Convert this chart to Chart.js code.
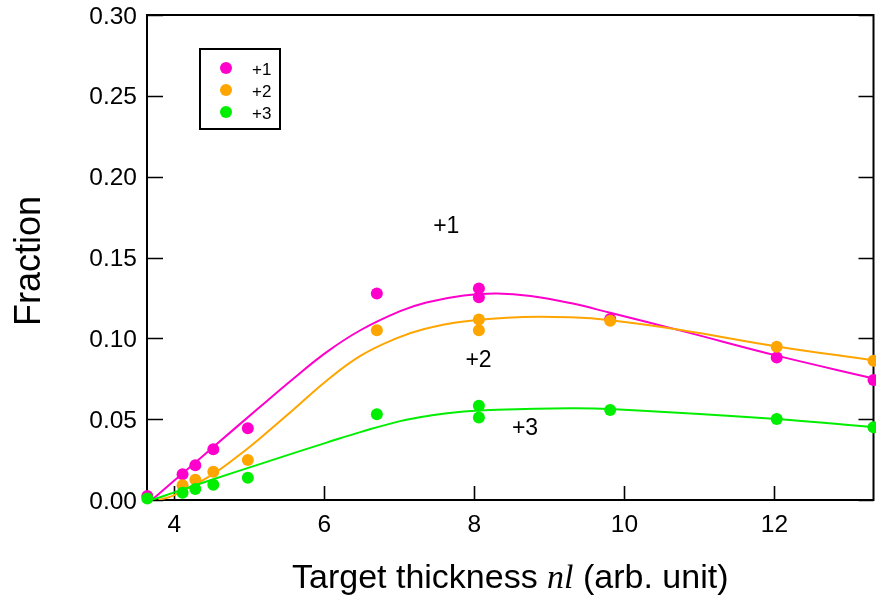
<!DOCTYPE html>
<html>
<head>
<meta charset="utf-8">
<script src="https://cdn.jsdelivr.net/npm/chart.js@4"></script>
<style>
  html, body { margin: 0; padding: 0; background: #fff; }
  #wrap { width: 876px; height: 597px; }
</style>
</head>
<body>
<div id="wrap"><canvas id="fractionChart" width="876" height="597"></canvas></div>
<script>
// measured charge-state fractions vs. target thickness
const thickness = [3.64, 4.11, 4.28, 4.52, 4.98, 6.70, 8.06, 8.06, 9.81, 12.03, 13.32];
const charge1 = [0.0025, 0.016, 0.0215, 0.0314, 0.0444, 0.1278, 0.1309, 0.1254, 0.112, 0.0882, 0.0742];
const charge2 = [null, 0.0092, 0.0126, 0.0175, 0.0247, 0.105, 0.1117, 0.105, 0.1109, 0.0948, 0.0861];
const charge3 = [0.001, 0.0045, 0.0068, 0.0095, 0.0138, 0.053, 0.0583, 0.0511, 0.0557, 0.0501, 0.045];

// fitted curves
const fit1X = [3.70, 4.0, 4.5, 5.14, 5.59, 6.03, 6.48, 7.01, 7.36, 7.86, 8.30, 8.75, 9.28, 9.81, 10.79, 12.03, 13.32];
const fit1Y = [0, 0.012, 0.032, 0.0575, 0.0752, 0.0915, 0.1050, 0.1168, 0.1222, 0.1265, 0.1277, 0.1262, 0.1218, 0.1158, 0.1043, 0.0893, 0.0752];
const fit2X = [3.79, 4.0, 4.5, 4.94, 5.14, 5.59, 6.03, 6.48, 6.95, 7.32, 7.86, 8.65, 9.28, 9.81, 10.75, 12.03, 13.32];
const fit2Y = [0, 0.003, 0.0155, 0.0305, 0.038, 0.056, 0.0738, 0.0891, 0.0998, 0.1056, 0.1104, 0.1132, 0.113, 0.1112, 0.1052, 0.095, 0.0864];
const fit3X = [3.70, 4.0, 4.5, 5.14, 5.59, 6.03, 6.48, 7.01, 7.41, 7.86, 8.30, 9.28, 9.81, 12.03, 13.32];
const fit3Y = [0, 0.0047, 0.0125, 0.0222, 0.029, 0.0355, 0.042, 0.0488, 0.0522, 0.0547, 0.0559, 0.0568, 0.0563, 0.0501, 0.045];

const seriesNames = ["+1", "+2", "+3"];
const seriesColors = ["#ff00cc", "#ffa500", "#00ee00"];

const xTicks = [4, 6, 8, 10, 12];
const yTicks = [0, 0.05, 0.10, 0.15, 0.20, 0.25, 0.30];

// curve labels placed in data coordinates
const curveLabels = [
  { text: "+1", x: 7.45, y: 0.165 },
  { text: "+2", x: 7.88, y: 0.0824 },
  { text: "+3", x: 8.50, y: 0.0402 },
];

const toPoints = (xs, ys) => xs.map((x, i) => ({ x: x, y: ys[i] }));

const SANS = "Arial, 'Liberation Sans', Helvetica, sans-serif";

const framePlugin = {
  id: "frame",
  beforeDatasetsDraw(chart) {
    const { ctx, chartArea: a, scales } = chart;
    const xs = scales.x, ys = scales.y;
    ctx.save();
    ctx.strokeStyle = "#000";
    ctx.lineWidth = 2;
    ctx.strokeRect(a.left, a.top, a.right - a.left, a.bottom - a.top);

    // inward ticks on bottom, left and right
    ctx.lineWidth = 1.6;
    ctx.beginPath();
    xTicks.forEach((t) => {
      const px = Math.round(xs.getPixelForValue(t)) + 0.5;
      ctx.moveTo(px, a.bottom);
      ctx.lineTo(px, a.bottom - 14);
    });
    yTicks.forEach((t) => {
      const py = Math.round(ys.getPixelForValue(t)) + 0.5;
      ctx.moveTo(a.left, py);
      ctx.lineTo(a.left + 16, py);
      ctx.moveTo(a.right, py);
      ctx.lineTo(a.right - 15, py);
    });
    ctx.stroke();
    ctx.restore();
  },
  afterDraw(chart) {
    const { ctx, chartArea: a, scales } = chart;
    const xs = scales.x, ys = scales.y;
    ctx.save();
    ctx.fillStyle = "#000";

    // tick labels
    ctx.font = "24.5px " + SANS;
    ctx.textAlign = "center";
    ctx.textBaseline = "alphabetic";
    xTicks.forEach((t) => {
      ctx.fillText(String(t), xs.getPixelForValue(t), 532);
    });
    ctx.textAlign = "right";
    yTicks.forEach((t) => {
      ctx.fillText(t.toFixed(2), 137, ys.getPixelForValue(t) + 8.5);
    });

    // x title with italic nl
    const partA = "Target thickness ";
    const partB = "nl";
    const partC = " (arb. unit)";
    const sansFont = "34px " + SANS;
    const serifFont = "italic 34px 'Liberation Serif', 'Times New Roman', serif";
    ctx.font = sansFont;
    const wA = ctx.measureText(partA).width;
    const wC = ctx.measureText(partC).width;
    ctx.font = serifFont;
    const wB = ctx.measureText(partB).width;
    let tx = (a.left + a.right) / 2 - (wA + wB + wC) / 2;
    ctx.textAlign = "left";
    ctx.font = sansFont;
    ctx.fillText(partA, tx, 588);
    tx += wA;
    ctx.font = serifFont;
    ctx.fillText(partB, tx, 588);
    tx += wB;
    ctx.font = sansFont;
    ctx.fillText(partC, tx, 588);

    // y title
    ctx.save();
    ctx.translate(40, 261);
    ctx.rotate(-Math.PI / 2);
    ctx.textAlign = "center";
    ctx.font = "36px " + SANS;
    ctx.fillText("Fraction", 0, 0);
    ctx.restore();

    // curve labels
    ctx.font = "23px " + SANS;
    ctx.textAlign = "left";
    curveLabels.forEach((l) => {
      ctx.fillText(l.text, xs.getPixelForValue(l.x), ys.getPixelForValue(l.y));
    });

    // legend box
    ctx.lineWidth = 2;
    ctx.strokeStyle = "#000";
    ctx.strokeRect(200, 49, 80, 80);
    ctx.font = "17px " + SANS;
    seriesNames.forEach((name, i) => {
      const cy = 68 + i * 22;
      ctx.fillStyle = seriesColors[i];
      ctx.beginPath();
      ctx.arc(226, cy, 6, 0, Math.PI * 2);
      ctx.fill();
      ctx.fillStyle = "#000";
      ctx.fillText(name, 252, cy + 6.5);
    });
    ctx.restore();
  },
};

const pointSet = (label, ys, color, order) => ({
  label: label,
  data: toPoints(thickness, ys),
  backgroundColor: color,
  borderColor: color,
  borderWidth: 0,
  pointRadius: 6,
  pointHoverRadius: 6,
  showLine: false,
  clip: false,
  order: order,
});

const fitSet = (label, xs, ys, color, order) => ({
  label: label,
  data: toPoints(xs, ys),
  borderColor: color,
  backgroundColor: color,
  borderWidth: 2,
  pointRadius: 0,
  showLine: true,
  tension: 0.4,
  fill: false,
  order: order,
});

new Chart(document.getElementById("fractionChart"), {
  type: "scatter",
  data: {
    datasets: [
      pointSet("+1", charge1, seriesColors[0], 6),
      fitSet("+1 fit", fit1X, fit1Y, seriesColors[0], 5),
      pointSet("+2", charge2, seriesColors[1], 4),
      fitSet("+2 fit", fit2X, fit2Y, seriesColors[1], 3),
      pointSet("+3", charge3, seriesColors[2], 2),
      fitSet("+3 fit", fit3X, fit3Y, seriesColors[2], 1),
    ],
  },
  options: {
    responsive: false,
    animation: false,
    devicePixelRatio: 1,
    layout: { autoPadding: false, padding: { left: 147, right: 2.5, top: 15, bottom: 97 } },
    plugins: {
      legend: { display: false },
      tooltip: { enabled: false },
    },
    scales: {
      x: { type: "linear", min: 3.636, max: 13.32, display: false },
      y: { type: "linear", min: 0, max: 0.30, display: false },
    },
  },
  plugins: [framePlugin],
});
</script>
</body>
</html>
